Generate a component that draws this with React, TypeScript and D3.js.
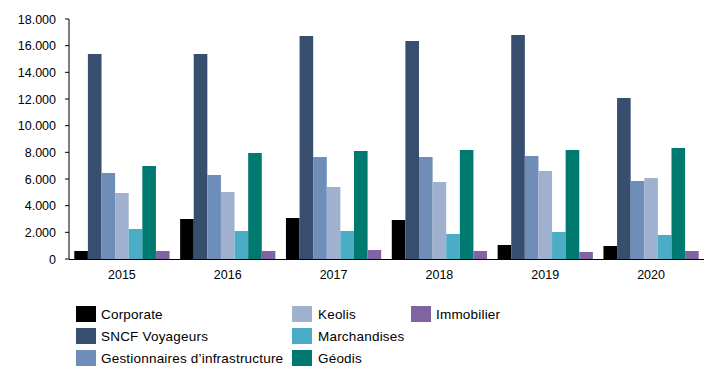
import React from "react";
import * as d3 from "d3";

const years = ["2015", "2016", "2017", "2018", "2019", "2020"];
const seriesNames = [
  "Corporate",
  "SNCF Voyageurs",
  "Gestionnaires d\u2019infrastructure",
  "Keolis",
  "Marchandises",
  "Géodis",
  "Immobilier",
];
const seriesColors = ["#000000", "#374e6e", "#6e8db9", "#9fb1cf", "#4bacc6", "#007a70", "#8064a2"];
const corporate = [600, 3000, 3075, 2925, 1050, 975];
const sncfVoyageurs = [15375, 15375, 16725, 16350, 16800, 12075];
const gestionnaires = [6450, 6300, 7650, 7650, 7725, 5850];
const keolis = [4950, 5025, 5400, 5775, 6600, 6075];
const marchandises = [2250, 2100, 2100, 1875, 2025, 1800];
const geodis = [6975, 7950, 8100, 8175, 8175, 8325];
const immobilier = [600, 600, 675, 600, 525, 600];
const yTicks = [0, 2000, 4000, 6000, 8000, 10000, 12000, 14000, 16000, 18000];

const seriesValues = [corporate, sncfVoyageurs, gestionnaires, keolis, marchandises, geodis, immobilier];

const fmt = (v: number) => d3.format(",")(v).replace(/,/g, ".");

export default function App() {
  const W = 712, H = 375;
  const left = 69, right = 704, top = 19, bottom = 259;
  const x0 = d3.scaleBand().domain(years).range([left, right]).paddingInner(0.1).paddingOuter(0.05);
  const x1 = d3.scaleBand().domain(seriesNames).range([0, x0.bandwidth()]);
  const y = d3.scaleLinear().domain([0, 18000]).range([bottom, top]);
  const font = "'Liberation Sans', Arial, sans-serif";
  const fs = 12.5;
  const legendCols = [
    { sx: 76, tx: 101 },
    { sx: 292, tx: 318 },
    { sx: 411, tx: 436 },
  ];
  const legendRows = [306, 328, 350];
  return (
    <svg width={W} height={H} style={{ position: "absolute", left: 0, top: 0 }} fontFamily={font}>
      <rect width={W} height={H} fill="#fff" />
      {years.map((yr, i) => (
        <g key={yr}>
          {seriesNames.map((s, j) => {
            const v = seriesValues[j][i];
            return (
              <rect
                key={s}
                x={(x0(yr) as number) + (x1(s) as number)}
                y={y(v)}
                width={x1.bandwidth()}
                height={bottom - y(v)}
                fill={seriesColors[j]}
              />
            );
          })}
          <text x={(x0(yr) as number) + x0.bandwidth() / 2} y={279} textAnchor="middle" fontSize={fs} fill="#000">
            {yr}
          </text>
        </g>
      ))}
      <line x1={left} x2={left} y1={top} y2={bottom} stroke="#000" strokeWidth={1} />
      <line x1={left} x2={right} y1={bottom + 0.5} y2={bottom + 0.5} stroke="#000" strokeWidth={1.2} />
      {yTicks.map((t) => (
        <g key={t}>
          <line x1={left - 4} x2={left} y1={y(t)} y2={y(t)} stroke="#000" />
          <text x={56} y={y(t) + 4.5} textAnchor="end" fontSize={fs} fill="#000">
            {fmt(t)}
          </text>
        </g>
      ))}
      {seriesNames.map((s, j) => {
        const col = legendCols[Math.floor(j / 3)];
        const ry = legendRows[j % 3];
        return (
          <g key={s}>
            <rect x={col.sx} y={ry} width={20} height={16} fill={seriesColors[j]} />
            <text x={col.tx} y={ry + 13} fontSize={13.5} letterSpacing={0.2} fill="#000">
              {s}
            </text>
          </g>
        );
      })}
    </svg>
  );
}
